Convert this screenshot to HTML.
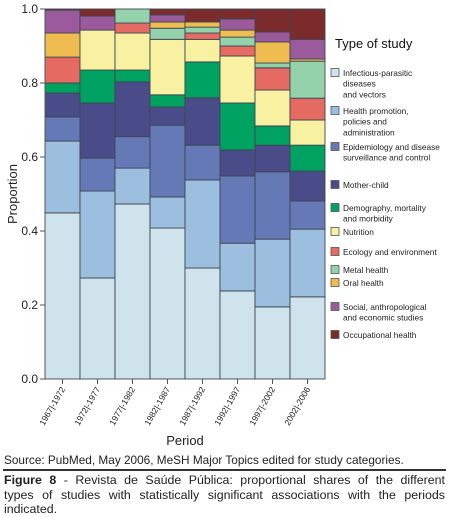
<!DOCTYPE html>
<html><head><meta charset="utf-8"><style>
body{margin:0;background:#fff;width:449px;height:516px;overflow:hidden;font-family:"Liberation Sans",sans-serif}
svg{position:absolute;left:0;top:0}
.cap{position:absolute;left:4px;font-size:12.4px;color:#222;line-height:14.5px}
.jl{text-align:justify;text-align-last:justify;width:441px}
</style></head><body>
<svg id="chart" width="449" height="460"></svg>
<div class="cap" style="top:453px;font-size:11.8px">Source: PubMed, May 2006, MeSH Major Topics edited for study categories.</div>
<div style="position:absolute;left:3px;top:469px;width:443px;border-top:2px solid #333"></div>
<div class="cap" style="top:473px;width:441px"><div class="jl"><b>Figure 8</b> - Revista de Saúde Pública: proportional shares of the different</div><div class="jl">types of studies with statistically significant associations with the periods</div><div>indicated.</div></div>
<script>
const periods=["1967|-1972","1972|-1977","1977|-1982","1982|-1987","1987|-1992","1992|-1997","1997|-2002","2002|-2006"];
const seriesNames=["Infectious-parasitic|diseases|and vectors","Health promotion,|policies and|administration","Epidemiology and disease|surveillance and control","Mother-child","Demography, mortality|and morbidity","Nutrition","Ecology and environment","Metal health","Oral health","Social, anthropological|and economic studies","Occupational health"];
const seriesColors=["#cfe3ed","#9cbfe0","#6479b6","#4a4c8a","#00a261","#f7f1a1","#e56a62","#93d2ab","#eebc4f","#9a5a9b","#7b2b2c"];
const infectious=[.449,.273,.473,.408,.30,.238,.195,.222];
const healthPromotion=[.194,.235,.097,.084,.238,.129,.183,.183];
const epidemiology=[.065,.089,.085,.194,.094,.182,.182,.076];
const motherChild=[.065,.149,.148,.049,.128,.07,.072,.081];
const demography=[.027,.089,.032,.033,.097,.127,.052,.07];
const nutrition=[0,.108,.1,.15,.061,.127,.097,.068];
const ecology=[.07,0,.027,0,.017,.027,.06,.059];
const metalHealth=[0,0,.038,.03,.016,.024,.013,.1];
const oralHealth=[.065,0,0,.017,.014,.019,.057,.006];
const social=[.062,.038,0,.019,0,.03,.027,.053];
const occupational=[.003,.019,0,.016,.035,.027,.062,.082];
const yTicks=["0.0","0.2","0.4","0.6","0.8","1.0"];
const series=[infectious,healthPromotion,epidemiology,motherChild,demography,nutrition,ecology,metalHealth,oralHealth,social,occupational];
const seriesKeys=["infectious","health-promotion","epidemiology","mother-child","demography","nutrition","ecology","metal-health","oral-health","social","occupational"];
const NS="http://www.w3.org/2000/svg";
const svg=document.getElementById('chart');
const X0=45,X1=325,Y0=379,Y1=9;
const bw=(X1-X0)/periods.length;
const xs=i=>X0+i*bw;
const ys=v=>Y0-(Y0-Y1)*v;
function mk(t,a,p){const e=document.createElementNS(NS,t);for(const k in a)e.setAttribute(k,a[k]);(p||svg).appendChild(e);return e;}
periods.forEach((p,i)=>{
  let cum=0;
  series.forEach((s,j)=>{
    const v=s[i]; if(v<=0){return;}
    const top=Math.min(1,cum+v);
    const r=mk('rect',{x:xs(i),y:ys(top),width:bw,height:ys(cum)-ys(top),fill:seriesColors[j],stroke:'#3d4650','stroke-width':0.9});
    
    
    cum=top;
  });
});
const ax=mk('line',{x1:X0,y1:Y1,x2:X0,y2:Y0,stroke:'#555','stroke-width':1});

yTicks.forEach(t=>{
  const v=parseFloat(t),y=ys(v);
  mk('line',{x1:X0-5,y1:y,x2:X0,y2:y,stroke:'#555'});
  const tx=mk('text',{x:X0-7,y:y+4,'text-anchor':'end','font-size':12,fill:'#222'});tx.textContent=t;
  
});
periods.forEach((p,i)=>{
  const cx=xs(i)+bw/2;
  mk('line',{x1:cx,y1:Y0,x2:cx,y2:Y0+5,stroke:'#555'});
  const tx=mk('text',{x:cx+3,y:Y0+10,'text-anchor':'end','font-size':8.5,fill:'#222',transform:`rotate(-60 ${cx+3} ${Y0+10})`});tx.textContent=p;
  
});
let t=mk('text',{x:185,y:445,'text-anchor':'middle','font-size':13,fill:'#222'});t.textContent='Period';

t=mk('text',{x:17,y:194,'text-anchor':'middle','font-size':13,fill:'#222',transform:'rotate(-90 17 194)'});t.textContent='Proportion';

t=mk('text',{x:335,y:48,'font-size':13,fill:'#111'});t.textContent='Type of study';

const legY=[73,111,147,185,208,232,252,270,283,307,335];
seriesNames.forEach((n,j)=>{
  const g=mk('g',{});
  
  mk('rect',{x:331,y:legY[j]-4.5,width:8,height:8,fill:seriesColors[j],stroke:'#555','stroke-width':0.8},g);
  n.split('|').forEach((ln,k)=>{const tt=mk('text',{x:343,y:legY[j]+3+k*10.7,'font-size':8.3,fill:'#222'},g);tt.textContent=ln;});
});
</script>
</body></html>
